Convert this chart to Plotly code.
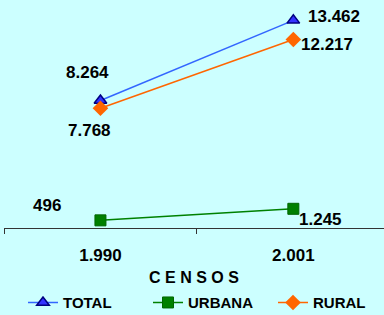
import plotly.graph_objects as go

categories = ["1.990", "2.001"]
total = [8264, 13462]
urbana = [496, 1245]
rural = [7768, 12217]
total_labels = ["8.264", "13.462"]
urbana_labels = ["496", "1.245"]
rural_labels = ["7.768", "12.217"]

FONT = "Liberation Sans, Arial, sans-serif"
xs = [0, 1]

fig = go.Figure()
fig.add_trace(go.Scatter(x=xs, y=total, name="TOTAL", mode="lines+markers",
                         line=dict(color="#3366FF", width=1.5),
                         marker=dict(symbol="triangle-up", size=11, color="#3333FF",
                                     line=dict(color="#000080", width=1.5))))
fig.add_trace(go.Scatter(x=xs, y=urbana, name="URBANA", mode="lines+markers",
                         line=dict(color="#008000", width=1.5),
                         marker=dict(symbol="square", size=11, color="#008000",
                                     line=dict(color="#006600", width=1))))
fig.add_trace(go.Scatter(x=xs, y=rural, name="RURAL", mode="lines+markers",
                         line=dict(color="#FF6600", width=1.5),
                         marker=dict(symbol="diamond", size=12, color="#FF6600",
                                     line=dict(color="#FF6600", width=0))))

offsets = {
    "total": [(-13, 28), (41, 4)],
    "urbana": [(-53, 15), (27, -11)],
    "rural": [(-11, -22), (34, -5)],
}
for key, vals, labs in [("total", total, total_labels), ("urbana", urbana, urbana_labels),
                        ("rural", rural, rural_labels)]:
    for i, (v, t) in enumerate(zip(vals, labs)):
        dx, dy = offsets[key][i]
        fig.add_annotation(x=xs[i], y=v, xref="x", yref="y", text=t, showarrow=False,
                           xshift=dx, yshift=dy,
                           font=dict(family=FONT, size=17, color="black", weight="bold"))

fig.update_layout(
    width=384, height=315,
    margin=dict(l=4, r=0, t=10, b=87, autoexpand=False),
    paper_bgcolor="#CCFFFF", plot_bgcolor="#CCFFFF",
    showlegend=True,
    legend=dict(orientation="h", x=0.05, xanchor="left",
                yref="container", y=0.039, yanchor="middle",
                font=dict(family=FONT, size=15, color="black", weight="bold"),
                bgcolor="rgba(0,0,0,0)", tracegroupgap=0,
                entrywidth=80, entrywidthmode="pixels"),
    xaxis=dict(range=[-0.5, 1.47], tickvals=xs, ticktext=categories,
               showgrid=False, zeroline=False, showline=True, linecolor="#333333", linewidth=1,
               ticks="", tickfont=dict(family=FONT, size=17, color="black", weight="bold"),
               ticklabelstandoff=12,
               minor=dict(tickvals=[-0.5, 0.5, 1.5], ticks="outside", ticklen=5,
                          tickcolor="#333333", showgrid=False),
               title=dict(text="C E N S O S", standoff=14,
                          font=dict(family=FONT, size=16, color="black", weight="bold"))),
    yaxis=dict(range=[0, 14133], visible=False, showgrid=False, zeroline=False),
)

fig.write_html("out.html", config={"displayModeBar": False},
               post_script="document.body.style.margin='0';document.body.style.overflow='hidden';")
